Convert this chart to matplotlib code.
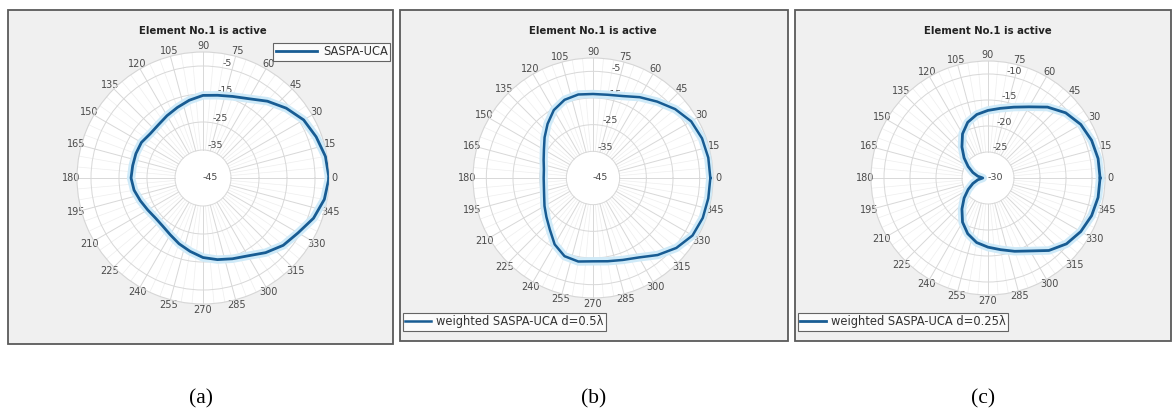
import numpy as np
import matplotlib
matplotlib.use('Agg')
import matplotlib.pyplot as plt
from matplotlib.patches import Rectangle

W, H = 1174, 418

# ---------------- data (dB) ----------------
angles_deg = list(range(0, 360, 10))

gain_a = [0.0, -0.6, -2.0, -3.5, -6.2, -9.2, -12.3, -14.0, -15.0, -15.5, -16.8, -18.2,
          -19.3, -20.2, -20.4, -19.6, -19.5, -19.5, -19.3, -20.0, -21.2, -22.2, -22.8, -22.6,
          -21.6, -20.0, -18.4, -16.6, -15.4, -14.3, -12.9, -10.2, -7.6, -5.8, -3.0, -1.0]
gain_b = [-1.0, -1.1, -1.5, -2.5, -4.8, -7.6, -10.0, -12.3, -13.3, -13.5, -13.2, -13.8,
          -15.6, -18.5, -21.3, -23.75, -25.3, -26.3, -26.5, -26.3, -25.5, -24.0, -22.2, -19.8,
          -16.25, -13.8, -13.2, -13.75, -13.3, -12.3, -10.6, -7.3, -4.2, -1.9, -1.2, -1.1]
gain_c = [-8.45, -8.5, -8.8, -9.4, -10.5, -12.2, -14.2, -15.5, -16.4, -17.0, -17.6, -18.6,
          -20.2, -22.2, -24.0, -25.6, -26.9, -28.0, -29.0, -28.0, -26.9, -25.6, -24.0, -22.2,
          -20.2, -18.6, -17.4, -16.7, -16.0, -15.0, -13.8, -11.8, -10.3, -9.4, -8.8, -8.5]

rticks_a = [-35, -25, -15, -5]
rticks_b = [-35, -25, -15, -5]
rticks_c = [-25, -20, -15, -10]
center_a, center_b, center_c = -45, -45, -30
rim_a, rim_b, rim_c = 0, 0, -7.5

theta_ticks = list(range(0, 360, 15))
theta_labels = [str(t) for t in theta_ticks]

title_text = "Element No.1 is active"
legend_a = "SASPA-UCA"
legend_b = "weighted SASPA-UCA d=0.5λ"
legend_c = "weighted SASPA-UCA d=0.25λ"
sub_labels = ["(a)", "(b)", "(c)"]

# ---------------- figure ----------------
fig = plt.figure(figsize=(W / 100, H / 100), dpi=100)
fig.patch.set_facecolor('white')

LINE_C = '#185c93'
HALO_C = '#cfeaf8'
GRID_C = '#d8d8d8'
TXT_C = '#4a4a4a'


def fx(x):
    return x / W


def fy(y):
    return 1 - y / H


panels = [
    dict(frame=(8, 10, 393, 344), c=(203, 178), R=126, g=gain_a, rt=rticks_a,
         r0=center_a, r1=rim_a, leg=legend_a, lw=2.0),
    dict(frame=(400, 10, 788, 341), c=(593, 178), R=120, g=gain_b, rt=rticks_b,
         r0=center_b, r1=rim_b, leg=legend_b, lw=1.8),
    dict(frame=(795, 10, 1171, 341), c=(988, 178), R=117, g=gain_c, rt=rticks_c,
         r0=center_c, r1=rim_c, leg=legend_c, lw=2.0),
]

for i, p in enumerate(panels):
    x0, y0, x1, y1 = p['frame']
    fig.add_artist(Rectangle((fx(x0), fy(y1)), (x1 - x0) / W, (y1 - y0) / H,
                             transform=fig.transFigure, facecolor='#f0f0f0',
                             edgecolor='#5a5a5a', lw=1.3, zorder=0))
    cx, cy = p['c']
    R = p['R']
    ax = fig.add_axes([fx(cx - R), fy(cy + R), 2 * R / W, 2 * R / H],
                      projection='polar')
    ax.set_facecolor('white')
    ax.set_ylim(p['r0'], p['r1'])
    ax.set_thetagrids(theta_ticks, labels=theta_labels, fontsize=7, color=TXT_C)
    ax.tick_params(axis='x', pad=-3, size=0)
    ax.set_rgrids(p['rt'], labels=[str(v) for v in p['rt']], angle=80,
                  fontsize=6.8, color=TXT_C)
    ax.xaxis.grid(False)
    ax.yaxis.grid(True, color=GRID_C, lw=0.7)
    ax.spines['polar'].set_color('#d6d6d6')
    ax.spines['polar'].set_linewidth(0.8)
    for t in range(0, 360, 5):
        major = (t % 15 == 0)
        ax.plot([np.deg2rad(t)] * 2, [p['rt'][0], p['r1']],
                color=GRID_C if major else '#eeeeee', lw=0.7 if major else 0.5,
                zorder=1)
    ax.text(np.deg2rad(80), p['r0'], str(p['r0']), fontsize=6.8, color=TXT_C,
            ha='left', va='center')
    th = np.deg2rad(angles_deg + [angles_deg[0]])
    rr = p['g'] + [p['g'][0]]
    ax.plot(th, rr, color=HALO_C, lw=6, zorder=4, solid_joinstyle='round')
    ln, = ax.plot(th, rr, color=LINE_C, lw=p['lw'], zorder=5, label=p['leg'],
                  solid_joinstyle='round')
    fig.text(fx(cx), fy(31), title_text, fontsize=7.3,
             fontweight='bold', ha='center', va='center', color='#222222')
    if i == 0:
        lg = fig.legend(handles=[ln], loc='upper right',
                        bbox_to_anchor=(fx(390), fy(43)), fontsize=8.3,
                        handlelength=3.6, frameon=True, fancybox=False,
                        borderpad=0.2, handletextpad=0.5, borderaxespad=0)
    else:
        lg = fig.legend(handles=[ln], loc='upper left',
                        bbox_to_anchor=(fx(x0 + 3), fy(313)), fontsize=8.3,
                        handlelength=2.2, frameon=True, fancybox=False,
                        borderpad=0.2, handletextpad=0.5, borderaxespad=0)
    lg.get_frame().set_edgecolor('#404040')
    lg.get_frame().set_linewidth(0.8)
    for t in lg.get_texts():
        t.set_color('#333333')
    fig.text(fx((x0 + x1) / 2), fy(399), sub_labels[i], fontsize=15.5,
             family='Liberation Serif', ha='center', va='center')

fig.savefig('out.png', dpi=100)
